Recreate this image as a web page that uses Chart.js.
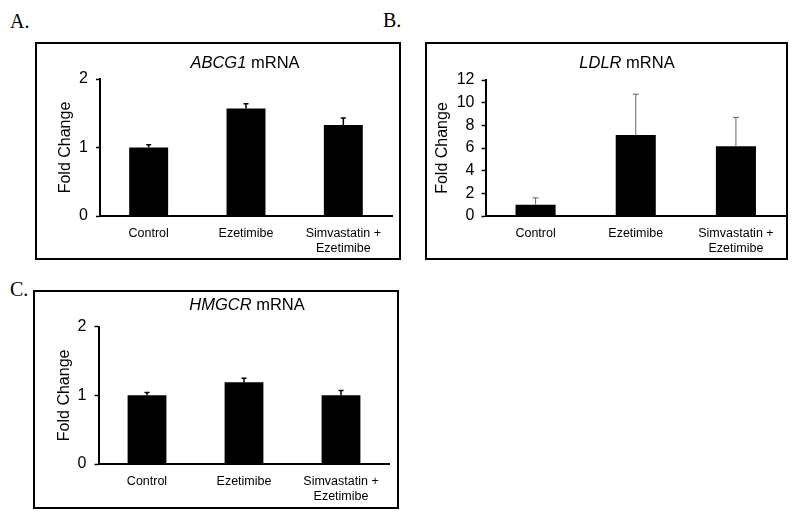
<!DOCTYPE html>
<html><head><meta charset="utf-8">
<script src="https://cdn.jsdelivr.net/npm/chart.js@4.4.1/dist/chart.umd.min.js"></script>
<style>
html,body{margin:0;padding:0;background:#fff;width:800px;height:520px;overflow:hidden;position:relative;font-family:"Liberation Sans",Arial,sans-serif}
.box{position:absolute;border:2px solid #000;box-sizing:border-box}
.box canvas{position:absolute;left:0;top:0}
.letter{position:absolute;font-family:"Liberation Serif","Times New Roman",serif;font-size:20px;line-height:20px;color:#000}
.title{position:absolute;font-size:16.5px;line-height:16.5px;color:#000;white-space:nowrap;transform:translateX(-50%)}
</style></head>
<body>
<div class="letter" style="left:10px;top:11px">A.</div>
<div class="letter" style="left:383px;top:10px">B.</div>
<div class="letter" style="left:10px;top:279px">C.</div>

<div class="box" style="left:35px;top:42px;width:366px;height:218px"><canvas id="cA" width="362" height="214"></canvas></div>
<div class="box" style="left:425px;top:42px;width:363px;height:218px"><canvas id="cB" width="359" height="214"></canvas></div>
<div class="box" style="left:33px;top:290px;width:366px;height:219px"><canvas id="cC" width="362" height="215"></canvas></div>

<div class="title" style="left:245px;top:54px"><i>ABCG1</i> mRNA</div>
<div class="title" style="left:627px;top:54px"><i>LDLR</i> mRNA</div>
<div class="title" style="left:247px;top:296px"><i>HMGCR</i> mRNA</div>

<script>
// ---- data ----
const categories = ["Control", "Ezetimibe", ["Simvastatin +", "Ezetimibe"]];
const yTitle = "Fold Change";

const abcg1Values = [1.00, 1.57, 1.33];
const abcg1Errors = [0.04, 0.07, 0.10];
const abcg1Ticks = { max: 2, step: 1 };

const ldlrValues = [1.00, 7.15, 6.15];
const ldlrErrors = [0.60, 3.60, 2.55];
const ldlrTicks = { max: 12, step: 2 };

const hmgcrValues = [1.00, 1.19, 1.00];
const hmgcrErrors = [0.04, 0.06, 0.07];
const hmgcrTicks = { max: 2, step: 1 };

const FONT = "'Liberation Sans', Arial, sans-serif";

const errPlugin = {
  id: 'errbars',
  afterDatasetsDraw(chart, args, opts) {
    const meta = chart.getDatasetMeta(0);
    const ys = chart.scales.y;
    const ctx = chart.ctx;
    const vals = chart.data.datasets[0].data;
    ctx.save();
    ctx.strokeStyle = opts.color;
    ctx.lineWidth = opts.width;
    meta.data.forEach((el, i) => {
      const top = ys.getPixelForValue(vals[i] + opts.errors[i]);
      ctx.beginPath();
      ctx.moveTo(el.x, el.y);
      ctx.lineTo(el.x, top);
      ctx.moveTo(el.x - opts.cap / 2, top);
      ctx.lineTo(el.x + opts.cap / 2, top);
      ctx.stroke();
    });
    ctx.restore();
  }
};

function makeChart(id, values, errors, ticks, g) {
  new Chart(document.getElementById(id), {
    type: 'bar',
    data: {
      labels: categories,
      datasets: [{ data: values, backgroundColor: '#000', borderWidth: 0,
                   barPercentage: 0.4, categoryPercentage: 1.0 }]
    },
    plugins: [errPlugin],
    options: {
      responsive: false,
      animation: false,
      events: [],
      layout: { padding: { left: 0, top: g.top, right: g.right, bottom: 0 } },
      plugins: {
        legend: { display: false },
        tooltip: { enabled: false },
        title: { display: false },
        errbars: { errors: errors, color: g.errColor, width: g.errWidth, cap: g.cap }
      },
      scales: {
        x: {
          type: 'category',
          grid: { display: false },
          border: { display: true, color: '#000', width: 2 },
          ticks: { color: '#000', font: { family: FONT, size: 12.5 }, padding: 2,
                   maxRotation: 0, minRotation: 0, autoSkip: false },
          afterFit: s => { s.height = g.xh; }
        },
        y: {
          min: 0, max: ticks.max,
          grid: { display: true, drawOnChartArea: false, drawTicks: true, tickLength: 4,
                  color: '#000', tickColor: '#000', tickWidth: 1.5 },
          border: { display: true, color: '#000', width: 2 },
          ticks: { stepSize: ticks.step, color: '#000', font: { family: FONT, size: 16 },
                   padding: g.tp, autoSkip: false },
          title: { display: true, text: yTitle, color: '#000',
                   font: { family: FONT, size: 16 }, padding: { top: g.tt, bottom: 0 } },
          afterFit: s => { s.width = g.yw; }
        }
      }
    }
  });
}

makeChart('cA', abcg1Values, abcg1Errors, abcg1Ticks,
  { top: 35, right: 7, xh: 42, yw: 63, tp: 8, tt: 19.4, errColor: '#000', errWidth: 1.5, cap: 5 });
makeChart('cB', ldlrValues, ldlrErrors, ldlrTicks,
  { top: 36, right: 0, xh: 42, yw: 58.5, tp: 7, tt: 6.4, errColor: '#666', errWidth: 1, cap: 6 });
makeChart('cC', hmgcrValues, hmgcrErrors, hmgcrTicks,
  { top: 34.7, right: 7.5, xh: 43, yw: 63.5, tp: 8, tt: 20, errColor: '#000', errWidth: 1.5, cap: 5 });
</script>
</body></html>
